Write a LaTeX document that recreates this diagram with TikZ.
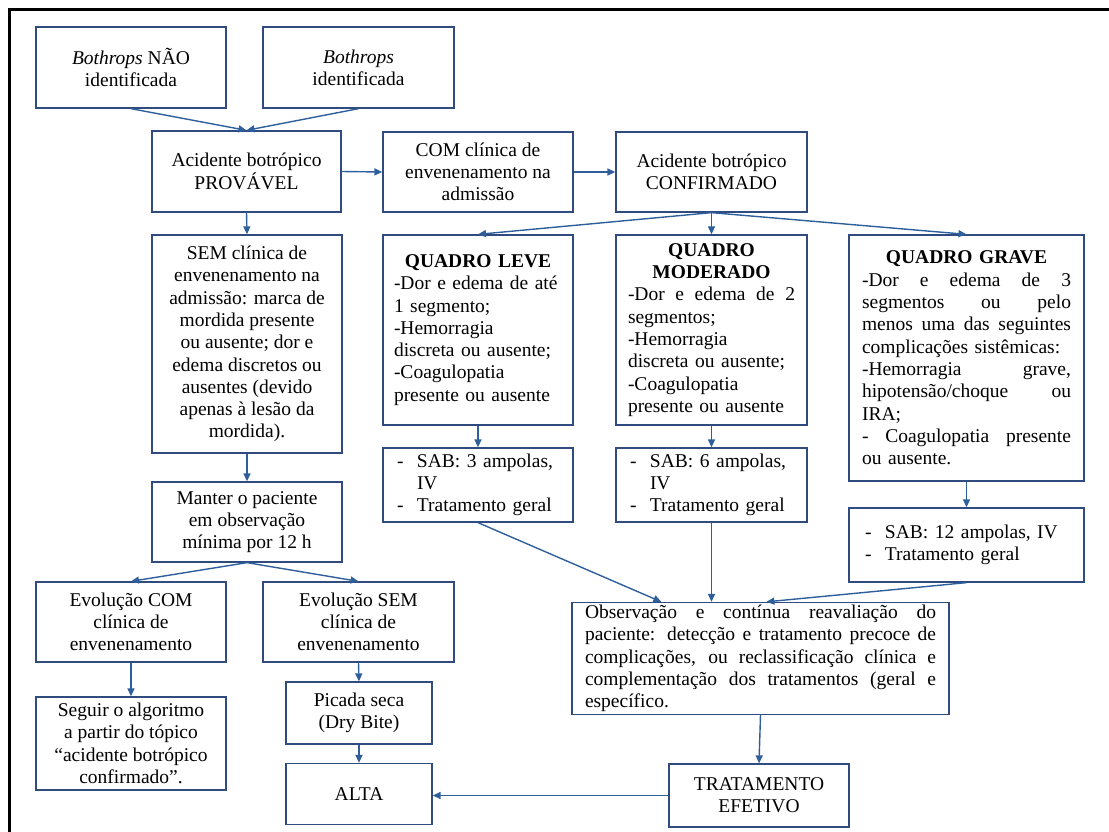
\documentclass[tikz,border=0pt]{standalone}
\usepackage{fontspec}
\setmainfont{Liberation Serif}
\usetikzlibrary{positioning,arrows.meta}

\definecolor{boxcol}{HTML}{2F4B80}
\definecolor{arrcol}{HTML}{2E5F9C}
\newcommand{\fullline}[1]{\makebox[\linewidth][s]{\spaceskip=0pt\xspaceskip=0pt\relax #1}}
\newcommand{\midline}[1]{\makebox[\linewidth][c]{#1}}
\newcommand{\dashitem}[1]{\makebox[20pt][l]{-}#1}

\begin{document}
\begin{tikzpicture}[
			x=1pt, y=-1pt
			,every node/.append style={font=\rmfamily\fontsize{19.5}{22.3}\selectfont}
			,box/.style={draw=boxcol, line width=1.3pt, align=center, inner sep=0pt}
			,wh/.style 2 args={minimum width=#1pt, minimum height=#2pt}
			,txtbox/.style 2 args={box, align=left, text width=#1pt, inner xsep=#2pt}
			,arr/.style={draw=arrcol, line width=1.4pt, -{Triangle[length=8pt,width=7pt]}}
		]
			\useasboundingbox (0,0) rectangle (1109,832);
			\draw[line width=2.5pt] (9.5,840) -- (9.5,9.5) -- (1115,9.5);

			% left column
			\node [box, wh={190}{81}] (nid) at (131,67.5) {\textit{Bothrops} NÃO\\identificada};
			\node [box, wh={191}{81}] (id) at (358.5,67.5) {\textit{Bothrops}\\identificada};
			\node [box, wh={189}{81}] (prov) at (246.5,171.5) {Acidente botrópico\\PROVÁVEL};
			\node [box, wh={190}{218}] (sem) at (247,344) {SEM clínica de\\envenenamento na\\admissão: marca de\\mordida presente\\ou ausente; dor e\\edema discretos ou\\ausentes (devido\\apenas à lesão da\\mordida).};
			\node [box, wh={190}{80}] (obs12) at (247,522) {Manter o paciente\\em observação\\mínima por 12 h};
			\node [box, wh={190}{80}] (evcom) at (131,622) {Evolução COM\\clínica de\\envenenamento};
			\node [box, wh={191}{80}] (evsem) at (358.5,622) {Evolução SEM\\clínica de\\envenenamento};
			\node [box, wh={190}{93}] (seguir) at (131,743.5) {Seguir o algoritmo\\a partir do tópico\\“acidente botrópico\\confirmado”.};
			\node [box, wh={146}{62}] (seca) at (359,713) {Picada seca\\(Dry Bite)};
			\node [box, wh={146}{61}] (alta) at (359,794) {ALTA};

			% right part
			\node [box, wh={190}{80}] (com) at (478,172) {COM clínica de\\envenenamento na\\admissão};
			\node [box, wh={191}{80}] (conf) at (711.5,172) {Acidente botrópico\\CONFIRMADO};
			\node [txtbox={168}{11}, minimum height=190pt] (leve) at (478,330) {\midline{\textbf{QUADRO LEVE}}\\-Dor e edema de até\\1 segmento;\\-Hemorragia\\discreta ou ausente;\\-Coagulopatia\\presente ou ausente};
			\node [txtbox={167}{12}, minimum height=190pt] (mod) at (711.5,330) {\midline{\textbf{QUADRO}}\\\midline{\textbf{MODERADO}}\\\fullline{-Dor e edema de 2}\\segmentos;\\-Hemorragia\\discreta ou ausente;\\-Coagulopatia\\presente ou ausente};
			\node [txtbox={209}{13}, minimum height=246pt] (grave) at (966.5,358) {\midline{\textbf{QUADRO GRAVE}}\\\fullline{-Dor e edema de 3}\\\fullline{segmentos ou pelo}\\\fullline{menos uma das seguintes}\\complicações sistêmicas:\\\fullline{-Hemorragia grave,}\\\fullline{hipotensão/choque ou}\\IRA;\\\fullline{- Coagulopatia presente}\\ou ausente.};
			\node [txtbox={162}{14}, minimum height=74pt] (sab3) at (478,485) {\dashitem{SAB: 3 ampolas,}\\\hspace*{20pt}IV\\\dashitem{Tratamento geral}};
			\node [txtbox={163}{14}, minimum height=74pt] (sab6) at (711.5,485) {\dashitem{SAB: 6 ampolas,}\\\hspace*{20pt}IV\\\dashitem{Tratamento geral}};
			\node [txtbox={203}{16}, minimum height=74pt] (sab12) at (966.5,545) {\dashitem{SAB: 12 ampolas, IV}\\\dashitem{Tratamento geral}};
			\node [txtbox={351}{13}, minimum height=112pt] (reav) at (760.5,658.5) {\fullline{Observação e contínua reavaliação do}\\\fullline{paciente: detecção e tratamento precoce de}\\\fullline{complicações, ou reclassificação clínica e}\\\fullline{complementação dos tratamentos (geral e}\\específico.};
			\node [box, wh={180}{63}] (efet) at (759,795.5) {TRATAMENTO\\EFETIVO};

			% connectors
			\draw[arr] (nid.south) -- (prov.north);
			\draw[arr] (id.south) -- (prov.north);
			\draw[arr] (prov.east) -- (com.west);
			\draw[arr] (com.east) -- (conf.west);
			\draw[arr] (prov.south) -- (sem.north);
			\draw[arr] (sem.south) -- (obs12.north);
			\draw[arr] (obs12.south) -- (evcom.north);
			\draw[arr] (obs12.south) -- (evsem.north);
			\draw[arr] (evcom.south) -- (seguir.north);
			\draw[arr] (evsem.south) -- (seca.north);
			\draw[arr] (seca.south) -- (alta.north);
			\draw[arr] (conf.south) -- (leve.north);
			\draw[arr] (conf.south) -- (mod.north);
			\draw[arr] (conf.south) -- (grave.north);
			\draw[arr] (leve.south) -- (sab3.north);
			\draw[arr] (mod.south) -- (sab6.north);
			\draw[arr] (grave.south) -- (sab12.north);
			\draw[arr] (sab3.south) -- ([xshift=90pt]reav.north west);
			\draw[arr] (sab6.south) -- (sab6.south |- reav.north);
			\draw[arr] (sab12.south) -- ([xshift=195pt]reav.north west);
			\draw[arr] (reav.south) -- (efet.north);
			\draw[arr] (efet.west) -- (efet.west -| alta.east);
		\end{tikzpicture}
\end{document}
